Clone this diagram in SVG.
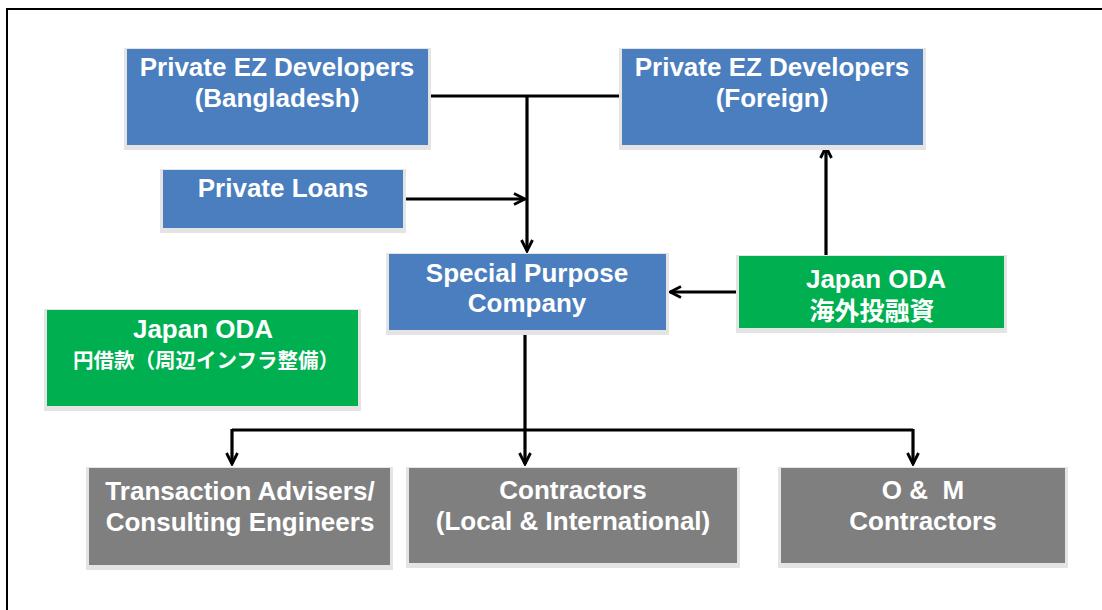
<svg xmlns="http://www.w3.org/2000/svg" width="1102" height="610" viewBox="0 0 1102 610">
<style>
.t{font-family:"Liberation Sans","Noto Sans CJK JP",Arial,sans-serif;font-weight:bold;font-size:26px;fill:#ffffff;text-anchor:middle}
.j{font-family:"Noto Sans CJK JP","Liberation Sans",sans-serif;font-weight:bold;fill:#ffffff;text-anchor:middle}
.blue{fill:#4a7ebe}
.green{fill:#00b050}
.gray{fill:#7f7f7f}
.sh{fill:#e4e4e4}
.c{stroke:#000000;stroke-width:3.2;fill:none}
</style>
<defs>
<marker id="ah" viewBox="0 0 14 14" refX="12.5" refY="7" markerWidth="14" markerHeight="14" markerUnits="userSpaceOnUse" orient="auto">
<polyline points="1.5,1.5 12.5,7 1.5,12.5" fill="none" stroke="#000" stroke-width="2.8"/>
</marker>
</defs>
<rect x="0" y="0" width="1102" height="610" fill="#ffffff"/>
<rect x="7" y="9" width="1110" height="620" fill="none" stroke="#000" stroke-width="2"/>

<g id="connectors">
<line class="c" x1="430" y1="96" x2="622" y2="96"/>
<line class="c" x1="527" y1="96" x2="527" y2="251" marker-end="url(#ah)"/>
<line class="c" x1="405" y1="199" x2="525" y2="199" marker-end="url(#ah)"/>
<line class="c" x1="739" y1="292" x2="670" y2="292" marker-end="url(#ah)"/>
<line class="c" x1="826" y1="256" x2="826" y2="147" marker-end="url(#ah)"/>
<line class="c" x1="525" y1="331" x2="525" y2="430"/>
<line class="c" x1="232" y1="430" x2="913" y2="430"/>
<line class="c" x1="232" y1="429" x2="232" y2="464" marker-end="url(#ah)"/>
<line class="c" x1="525" y1="429" x2="525" y2="464" marker-end="url(#ah)"/>
<line class="c" x1="913" y1="429" x2="913" y2="464" marker-end="url(#ah)"/>
</g>

<g id="bangladesh">
<rect class="sh" x="124" y="48" width="307" height="102"/>
<rect class="blue" x="127" y="49" width="301" height="96"/>
<text class="t" x="277" y="76">Private EZ Developers</text>
<text class="t" x="277" y="107">(Bangladesh)</text>
</g>

<g id="foreign">
<rect class="sh" x="619" y="48" width="307" height="102"/>
<rect class="blue" x="622" y="49" width="301" height="96"/>
<text class="t" x="772" y="76">Private EZ Developers</text>
<text class="t" x="772" y="107">(Foreign)</text>
</g>

<g id="loans">
<rect class="sh" x="160" y="169" width="246" height="64"/>
<rect class="blue" x="163" y="170" width="240" height="58"/>
<text class="t" x="283" y="197">Private Loans</text>
</g>

<g id="spc">
<rect class="sh" x="386" y="253" width="283" height="82"/>
<rect class="blue" x="389" y="254" width="277" height="76"/>
<text class="t" x="527" y="282">Special Purpose</text>
<text class="t" x="527" y="312">Company</text>
</g>

<g id="oda-invest">
<rect class="sh" x="736" y="255" width="271" height="78"/>
<rect class="green" x="739" y="256" width="265" height="72"/>
<text class="t" x="876" y="288">Japan ODA</text>
<text class="j" x="872" y="320" font-size="25">海外投融資</text>
</g>

<g id="oda-loan">
<rect class="sh" x="44" y="309" width="317" height="102"/>
<rect class="green" x="47" y="310" width="311" height="96"/>
<text class="t" x="203" y="338">Japan ODA</text>
<text class="j" x="206" y="368" font-size="20.5">円借款（周辺インフラ整備）</text>
</g>

<g id="advisers">
<rect class="sh" x="86" y="467" width="307" height="103"/>
<rect class="gray" x="89" y="468" width="301" height="97"/>
<text class="t" x="240" y="500">Transaction Advisers/</text>
<text class="t" x="240" y="531">Consulting Engineers</text>
</g>

<g id="contractors">
<rect class="sh" x="406" y="467" width="334" height="101"/>
<rect class="gray" x="409" y="468" width="328" height="95"/>
<text class="t" x="573" y="499">Contractors</text>
<text class="t" x="573" y="530">(Local &amp; International)</text>
</g>

<g id="om">
<rect class="sh" x="778" y="467" width="290" height="101"/>
<rect class="gray" x="781" y="468" width="284" height="95"/>
<text class="t" x="923" y="499" xml:space="preserve">O &amp;  M</text>
<text class="t" x="923" y="530">Contractors</text>
</g>
</svg>
